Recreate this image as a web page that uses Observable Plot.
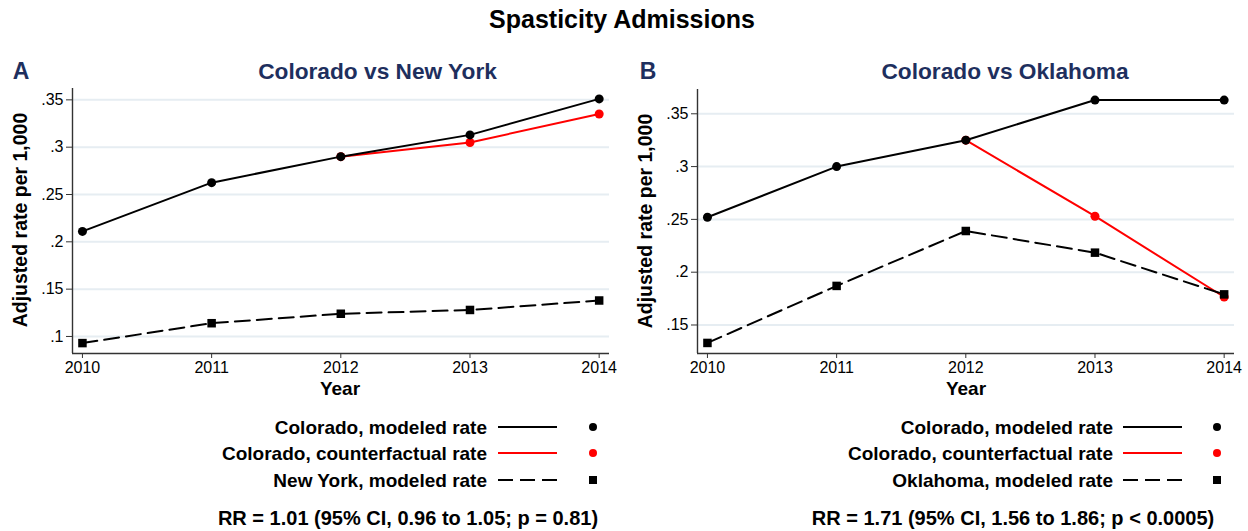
<!DOCTYPE html>
<html>
<head>
<meta charset="utf-8">
<script src="https://cdn.jsdelivr.net/npm/d3@7"></script>
<script src="https://cdn.jsdelivr.net/npm/@observablehq/plot@0.6"></script>
<style>
  html, body { margin: 0; padding: 0; background: #fff; }
  body { font-family: "Liberation Sans", Arial, Helvetica, sans-serif; }
  #root { position: relative; width: 1248px; height: 531px; overflow: hidden; background: #fff; }
  .abs { position: absolute; white-space: nowrap; line-height: 1; transform: translate(-50%, -50%); }
  .panel { position: absolute; top: 0; }
</style>
</head>
<body>
<div id="root"></div>
<script>
// ---------- data ----------
const years = [2010, 2011, 2012, 2013, 2014];

// Panel A: Colorado vs New York
const coModeledA        = [0.211, 0.2625, 0.290, 0.313, 0.351];
const coCounterfactualA = [null, null, 0.290, 0.305, 0.335];
const nyModeled         = [0.093, 0.114, 0.124, 0.128, 0.138];

// Panel B: Colorado vs Oklahoma
const coModeledB        = [0.252, 0.300, 0.325, 0.363, 0.363];
const coCounterfactualB = [null, null, 0.325, 0.253, 0.1765];
const okModeled         = [0.133, 0.187, 0.239, 0.2185, 0.179];

const yTicksA = [0.1, 0.15, 0.2, 0.25, 0.3, 0.35];
const yTicksB = [0.15, 0.2, 0.25, 0.3, 0.35];
const xDomain = [2009.923, 2014.08];
const yDomainA = [0.082, 0.362];
const yDomainB = [0.123, 0.373];

const mainTitle = "Spasticity Admissions";
const panelLetters = ["A", "B"];
const panelTitles = ["Colorado vs New York", "Colorado vs Oklahoma"];
const yLabel = "Adjusted rate per 1,000";
const xLabel = "Year";
const legendA = ["Colorado, modeled rate", "Colorado, counterfactual rate", "New York, modeled rate"];
const legendB = ["Colorado, modeled rate", "Colorado, counterfactual rate", "Oklahoma, modeled rate"];
const rrTexts = ["RR = 1.01 (95% CI, 0.96 to 1.05; p = 0.81)", "RR = 1.71 (95% CI, 1.56 to 1.86; p < 0.0005)"];

// ---------- styles ----------
const NAVY = "#1e2f5e";
const seriesStyle = [
  {stroke: "#000000", dash: null, symbol: "circle"},
  {stroke: "#ff0000", dash: null, symbol: "circle"},
  {stroke: "#000000", dash: "15,7", symbol: "square"}
];

const toRows = arr => years.map((year, i) => ({year, value: arr[i]}));
const fmt = d => d3.format(".2~f")(d).replace(/^0\./, ".");

const root = document.getElementById("root");

function addText(txt, cx, cy, size, color, extra = "") {
  const d = document.createElement("div");
  d.className = "abs";
  d.textContent = txt;
  d.style.cssText += `left:${cx}px;top:${cy}px;font-size:${size}px;font-weight:bold;color:${color};${extra}`;
  root.appendChild(d);
  return d;
}

function makePanel(opts) {
  const {left, series, yTicks, yDomain, mLeft, mRight, mTop, mBottom} = opts;
  const [modeled, counter, other] = series.map(toRows);
  const chart = Plot.plot({
    width: 624, height: 400,
    marginLeft: mLeft, marginRight: mRight, marginTop: mTop, marginBottom: mBottom,
    style: {fontFamily: '"Liberation Sans", Arial, sans-serif', fontSize: "16px", background: "transparent", color: "#000", overflow: "visible"},
    x: {domain: xDomain},
    y: {domain: yDomain},
    marks: [
      Plot.gridY(yTicks, {stroke: "#e6edf2", strokeOpacity: 1, strokeWidth: 2}),
      Plot.axisY(yTicks, {tickSize: 6, tickPadding: 3, tickFormat: fmt, label: null, stroke: "#333", fill: "#000", fontSize: 16}),
      Plot.axisX(years, {tickSize: 5, tickPadding: 3, tickFormat: "d", label: null, stroke: "#333", fill: "#000", fontSize: 16}),
      Plot.ruleX([xDomain[0]], {stroke: "#333", strokeWidth: 1.4}),
      Plot.ruleY([yDomain[0]], {stroke: "#333", strokeWidth: 1.4}),
      // counterfactual (red)
      Plot.line(counter, {x: "year", y: "value", stroke: seriesStyle[1].stroke, strokeWidth: 2, filter: d => d.value != null}),
      Plot.dot(counter, {x: "year", y: "value", fill: seriesStyle[1].stroke, r: 4.5, filter: d => d.value != null}),
      // modeled (black)
      Plot.line(modeled, {x: "year", y: "value", stroke: seriesStyle[0].stroke, strokeWidth: 2}),
      Plot.dot(modeled, {x: "year", y: "value", fill: seriesStyle[0].stroke, r: 4.5}),
      // comparison state (dashed)
      Plot.line(other, {x: "year", y: "value", stroke: seriesStyle[2].stroke, strokeWidth: 2, strokeDasharray: seriesStyle[2].dash}),
      Plot.dot(other, {x: "year", y: "value", fill: "#000", symbol: "square", r: 4.8})
    ]
  });
  const wrap = document.createElement("div");
  wrap.className = "panel";
  wrap.style.left = left + "px";
  wrap.appendChild(chart);
  root.appendChild(wrap);
}

function makeLegend(labels, textRight, lineLeft, lineRight, markerX, rowYs) {
  labels.forEach((lab, i) => {
    const st = seriesStyle[i];
    const row = document.createElement("div");
    row.className = "abs";
    row.style.cssText += `left:${textRight}px;top:${rowYs[i]}px;transform:translate(-100%,-50%);font-size:19px;font-weight:bold;color:#000;`;
    row.textContent = lab;
    root.appendChild(row);
    const w = lineRight - lineLeft;
    const svg = d3.select(root).append("svg")
      .style("position", "absolute")
      .style("left", lineLeft + "px")
      .style("top", (rowYs[i] - 6) + "px")
      .attr("width", markerX - lineLeft + 8)
      .attr("height", 12);
    svg.append("line").attr("x1", 0).attr("x2", w).attr("y1", 6).attr("y2", 6)
      .attr("stroke", st.stroke).attr("stroke-width", 2)
      .attr("stroke-dasharray", st.dash);
    const mx = markerX - lineLeft;
    if (st.symbol === "circle") {
      svg.append("circle").attr("cx", mx).attr("cy", 6).attr("r", 4).attr("fill", st.stroke);
    } else {
      svg.append("rect").attr("x", mx - 4).attr("y", 2).attr("width", 8).attr("height", 8).attr("fill", st.stroke);
    }
  });
}

// ---------- layout ----------
addText(mainTitle, 622, 19, 25, "#000");

makePanel({left: 0, series: [coModeledA, coCounterfactualA, nyModeled], yTicks: yTicksA, yDomain: yDomainA,
  mLeft: 72, mRight: 15, mTop: 88, mBottom: 47});
makePanel({left: 624, series: [coModeledB, coCounterfactualB, okModeled], yTicks: yTicksB, yDomain: yDomainB,
  mLeft: 73, mRight: 14, mTop: 89, mBottom: 47});

addText(panelLetters[0], 21, 71, 23, NAVY);
addText(panelLetters[1], 648, 71, 23, NAVY);
addText(panelTitles[0], 377.5, 71, 22.7, NAVY);
addText(panelTitles[1], 1005, 71, 22.7, NAVY);

addText(yLabel, 21, 220, 19.5, "#000", "transform:translate(-50%,-50%) rotate(-90deg);");
addText(yLabel, 646, 220.5, 19.5, "#000", "transform:translate(-50%,-50%) rotate(-90deg);");
addText(xLabel, 340, 388, 19, "#000");
addText(xLabel, 966, 388, 19, "#000");

makeLegend(legendA, 487, 498, 557, 593, [426.5, 453, 479.5]);
makeLegend(legendB, 1113, 1123, 1182, 1217, [426.5, 453, 479.5]);

addText(rrTexts[0], 408, 518, 20, "#000");
addText(rrTexts[1], 1013, 518, 20, "#000");
</script>
</body>
</html>
